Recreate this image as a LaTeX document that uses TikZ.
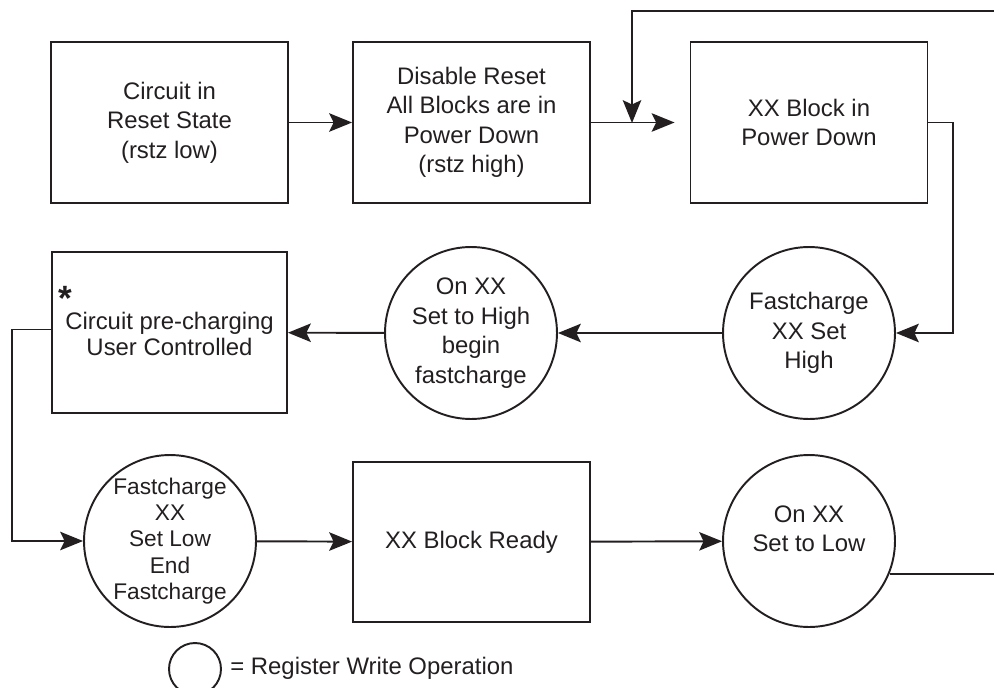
\documentclass[tikz,border=0pt]{standalone}
\usepackage{fontspec}
\setmainfont{Liberation Sans}
\usetikzlibrary{arrows.meta}
\definecolor{ink}{RGB}{35,31,32}
\begin{document}
\begin{tikzpicture}[x=0.02cm,y=-0.02cm,
  every node/.style={text=ink},
  boxnode/.style={draw=ink,line width=1.1pt,rectangle,minimum width=4.74cm,minimum height=3.22cm,inner sep=0pt,align=center,
    font=\fontsize{13.6pt}{16.8pt}\selectfont},
  circnode/.style={draw=ink,line width=1.1pt,circle,minimum size=3.44cm,inner sep=0pt,align=center,
    font=\fontsize{13.6pt}{16.8pt}\selectfont},
  txtnode/.style={align=center,inner sep=0pt,font=\fontsize{13.6pt}{16.8pt}\selectfont},
  conn/.style={draw=ink,line width=1.1pt},
  arr/.style={conn,-{Stealth[length=13pt,width=10.5pt,inset=2.5pt]}}]
\useasboundingbox (0,0) rectangle (994,687);
\clip (0,0) rectangle (994,687);
% boxes
\node[boxnode] (b1) at (169.5,122.5) {Circuit in\\Reset State\\(rstz low)};
\node[boxnode] (b2) at (471.5,122.5) {Disable Reset\\All Blocks are in\\Power Down\\(rstz high)};
\node[boxnode] (b3) at (809,122.5) {XX Block in\\Power Down};
\node[circnode] (c1) at (809,333) {Fastcharge\\XX Set\\High};
\node[circnode] (c2) at (471,333) {On XX\\Set to High\\begin\\fastcharge};
\node[boxnode,minimum width=4.70cm,font=\fontsize{13.6pt}{14.4pt}\selectfont] (b4) at (169.5,332.5) {\rule{0pt}{0pt}\\[-3pt]Circuit pre-charging\\User Controlled};
\node[txtnode,font=\fontsize{20pt}{20pt}\selectfont\bfseries] (star) at (65,298) {*};
\node[circnode,font=\fontsize{12.9pt}{15pt}\selectfont] (c3) at (170,541) {Fastcharge\\XX\\Set Low\\End\\Fastcharge};
\node[boxnode,minimum height=3.20cm] (b5) at (471.5,542) {XX Block Ready};
\node[circnode] (c4) at (809,541) {};
\node[txtnode] (c4t) at (809,529) {On XX\\Set to Low};
% legend
\node[draw=ink,line width=1.1pt,circle,minimum size=1.04cm,inner sep=0pt] (lg) at (195,669) {};
\node[txtnode,anchor=west] (lgt) at (230,668) {= Register Write Operation};
% off-page coordinates
\coordinate (rin) at (994,11);
\coordinate (rout) at (994,574);
\coordinate (jn) at (632,123);
% connectors
\draw[arr] (b1) -- (b2);
\draw[arr,shorten >=0.3cm] (b2) -- (b3);
\draw[arr] (rin) -| (jn);
\draw[arr] (b3.east) -- ++(25,0) |- (c1.east);
\draw[arr] (c1) -- (c2);
\draw[arr] (c2) -- (b4);
\draw[arr] (b4.west) ++(0,-3) -- ++(-39,0) |- (c3.west);
\draw[arr] (c3) -- (b5);
\draw[arr] (b5) -- (c4);
\draw[conn] (c4.-22.6) -- (c4.-22.6 -| rout);
\end{tikzpicture}
\end{document}
